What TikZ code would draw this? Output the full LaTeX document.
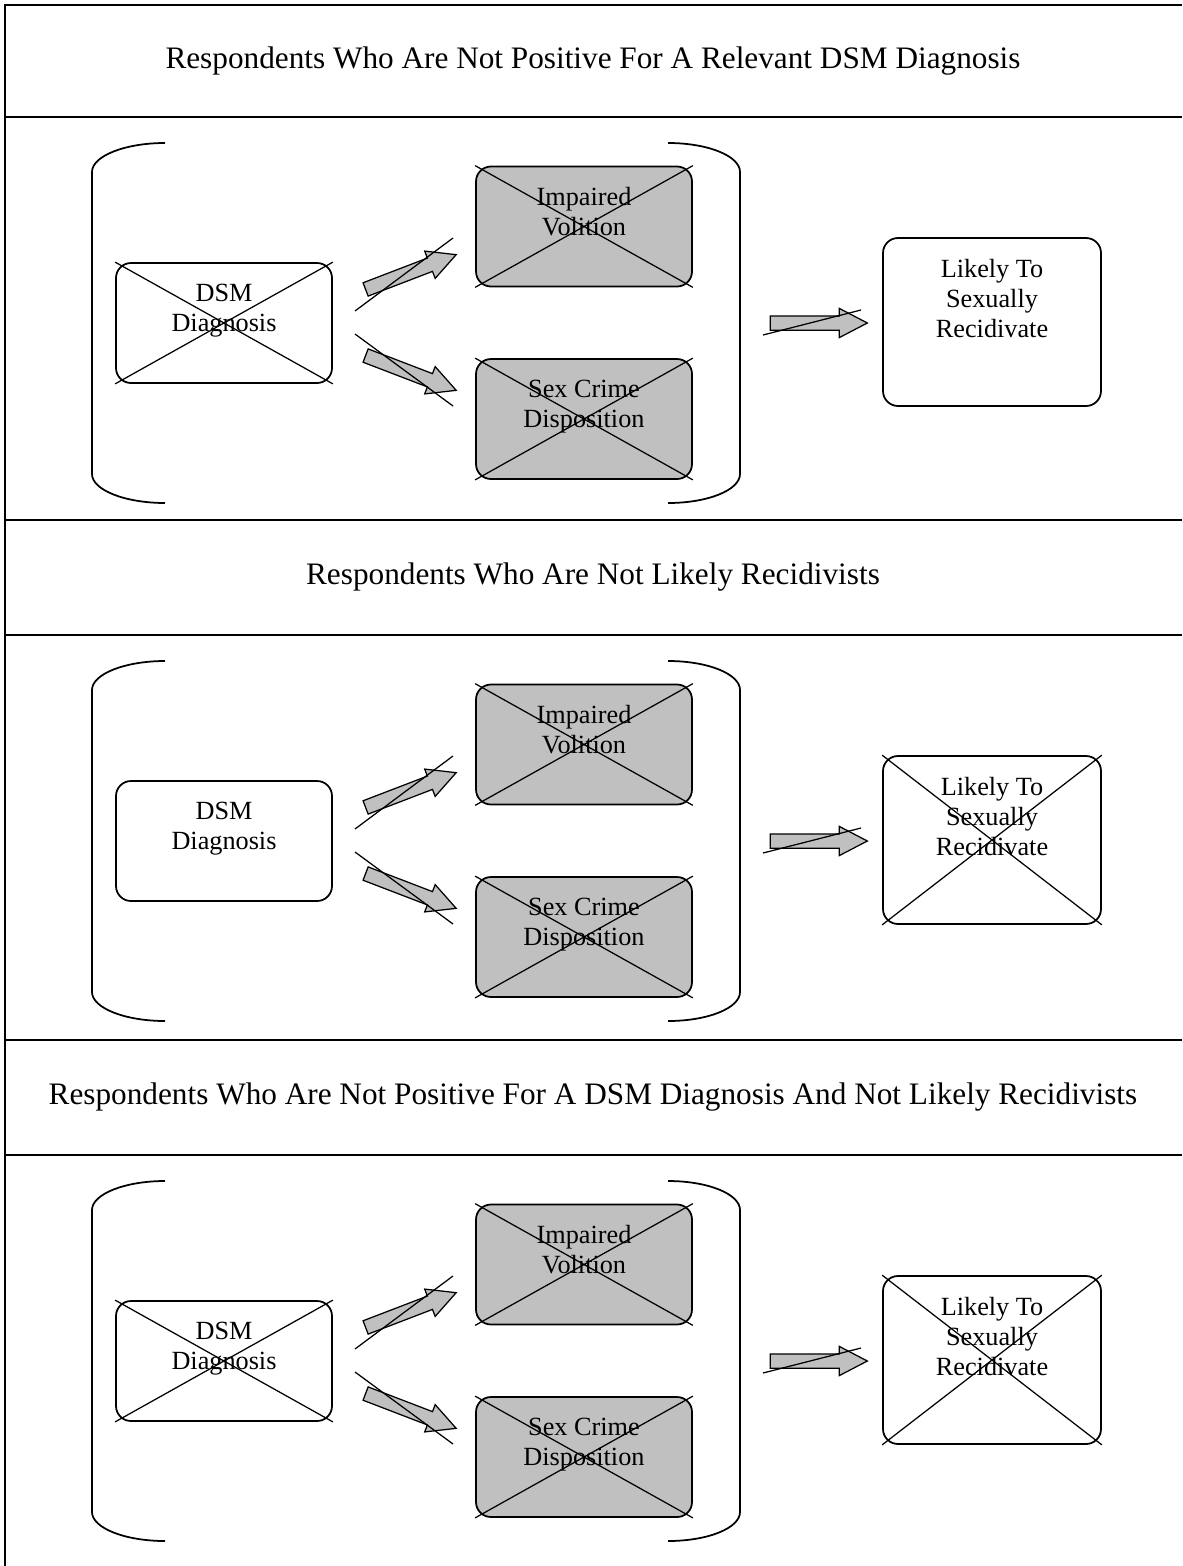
\documentclass[tikz,border=0pt]{standalone}
\usepackage{fontspec}
\setmainfont{Liberation Serif}
\usetikzlibrary{shapes.arrows}
\definecolor{boxgray}{HTML}{C0C0C0}
\newcommand{\boxfont}{\fontsize{10.5}{12}\selectfont}
\tikzset{
  wbox/.style={draw, line width=0.7pt, rounded corners=6pt, minimum width=86.4pt,
               minimum height=48pt, inner sep=0pt},
  graybox/.style={wbox, fill=boxgray},
  tallbox/.style={wbox, minimum width=87.2pt, minimum height=67.2pt},
  boxlabel/.style={anchor=north, align=center, font=\boxfont, inner sep=0pt, yshift=-8.5pt},
  strike/.style={line width=0.5pt},
  fatarrow/.style={single arrow, draw, fill=boxgray, line width=0.5pt, inner xsep=0pt,
                   inner ysep=2.6pt, minimum height=38.8pt, single arrow head extend=3pt,
                   single arrow tip angle=55},
  bracket/.style={line width=0.7pt},
  rule/.style={line width=0.8pt},
  headtext/.style={font=\fontsize{12.5}{14}\selectfont}
}

\begin{document}
\begin{tikzpicture}[x=0.4pt, y=-0.4pt]
  \useasboundingbox (0,0) rectangle (1182,1566);

  % frame and bands
  \draw[rule] (5,1566) -- (5,5) -- (1182,5);
  \foreach \y in {117,520,635,1040,1155}
    \draw[rule] (5,\y) -- (1182,\y);

  \node[headtext] (head1) at (593,61) {Respondents Who Are Not Positive For A Relevant DSM Diagnosis};
  \node[headtext] (head2) at (593,577.5) {Respondents Who Are Not Likely Recidivists};
  \node[headtext] (head3) at (593,1097.5) {Respondents Who Are Not Positive For A DSM Diagnosis And Not Likely Recidivists};

  % panel 1
  \begin{scope}
    \draw[bracket] (165,143) .. controls (125,143) and (92,156) .. (92,172) -- (92,474)
      .. controls (92,490) and (125,503) .. (165,503);
    \draw[bracket] (668,143) .. controls (708,143) and (740,156) .. (740,172) -- (740,474)
      .. controls (740,490) and (708,503) .. (668,503);
    \node[wbox, label={[boxlabel]north:DSM\\Diagnosis}] (dsm1) at (224,323) {};
    \node[graybox, label={[boxlabel]north:Impaired\\Volition}] (vol1) at (584,226.5) {};
    \node[graybox, label={[boxlabel]north:Sex Crime\\Disposition}] (sex1) at (584,419) {};
    \node[tallbox, label={[boxlabel]north:Likely To\\Sexually\\Recidivate}] (lik1) at (992,322) {};
    \node[fatarrow, rotate=21] (up1) at (404.5,274.5) {};
    \node[fatarrow, rotate=-21] (dn1) at (404.5,370.5) {};
    \node[fatarrow] (ra1) at (812,323) {};
    \draw[strike] (355,311) -- (453,238) (355,334) -- (453,406) (763,335) -- (861,310);
    \draw[strike] (dsm1.north west) -- (dsm1.south east) (dsm1.south west) -- (dsm1.north east);
    \draw[strike] (vol1.north west) -- (vol1.south east) (vol1.south west) -- (vol1.north east);
    \draw[strike] (sex1.north west) -- (sex1.south east) (sex1.south west) -- (sex1.north east);
  \end{scope}

  % panel 2
  \begin{scope}[shift={(0,518)}]
    \draw[bracket] (165,143) .. controls (125,143) and (92,156) .. (92,172) -- (92,474)
      .. controls (92,490) and (125,503) .. (165,503);
    \draw[bracket] (668,143) .. controls (708,143) and (740,156) .. (740,172) -- (740,474)
      .. controls (740,490) and (708,503) .. (668,503);
    \node[wbox, label={[boxlabel]north:DSM\\Diagnosis}] (dsm2) at (224,323) {};
    \node[graybox, label={[boxlabel]north:Impaired\\Volition}] (vol2) at (584,226.5) {};
    \node[graybox, label={[boxlabel]north:Sex Crime\\Disposition}] (sex2) at (584,419) {};
    \node[tallbox, label={[boxlabel]north:Likely To\\Sexually\\Recidivate}] (lik2) at (992,322) {};
    \node[fatarrow, rotate=21] (up2) at (404.5,274.5) {};
    \node[fatarrow, rotate=-21] (dn2) at (404.5,370.5) {};
    \node[fatarrow] (ra2) at (812,323) {};
    \draw[strike] (355,311) -- (453,238) (355,334) -- (453,406) (763,335) -- (861,310);
    \draw[strike] (vol2.north west) -- (vol2.south east) (vol2.south west) -- (vol2.north east);
    \draw[strike] (sex2.north west) -- (sex2.south east) (sex2.south west) -- (sex2.north east);
    \draw[strike] (lik2.north west) -- (lik2.south east) (lik2.south west) -- (lik2.north east);
  \end{scope}

  % panel 3
  \begin{scope}[shift={(0,1038)}]
    \draw[bracket] (165,143) .. controls (125,143) and (92,156) .. (92,172) -- (92,474)
      .. controls (92,490) and (125,503) .. (165,503);
    \draw[bracket] (668,143) .. controls (708,143) and (740,156) .. (740,172) -- (740,474)
      .. controls (740,490) and (708,503) .. (668,503);
    \node[wbox, label={[boxlabel]north:DSM\\Diagnosis}] (dsm3) at (224,323) {};
    \node[graybox, label={[boxlabel]north:Impaired\\Volition}] (vol3) at (584,226.5) {};
    \node[graybox, label={[boxlabel]north:Sex Crime\\Disposition}] (sex3) at (584,419) {};
    \node[tallbox, label={[boxlabel]north:Likely To\\Sexually\\Recidivate}] (lik3) at (992,322) {};
    \node[fatarrow, rotate=21] (up3) at (404.5,274.5) {};
    \node[fatarrow, rotate=-21] (dn3) at (404.5,370.5) {};
    \node[fatarrow] (ra3) at (812,323) {};
    \draw[strike] (355,311) -- (453,238) (355,334) -- (453,406) (763,335) -- (861,310);
    \draw[strike] (dsm3.north west) -- (dsm3.south east) (dsm3.south west) -- (dsm3.north east);
    \draw[strike] (vol3.north west) -- (vol3.south east) (vol3.south west) -- (vol3.north east);
    \draw[strike] (sex3.north west) -- (sex3.south east) (sex3.south west) -- (sex3.north east);
    \draw[strike] (lik3.north west) -- (lik3.south east) (lik3.south west) -- (lik3.north east);
  \end{scope}
\end{tikzpicture}
\end{document}
